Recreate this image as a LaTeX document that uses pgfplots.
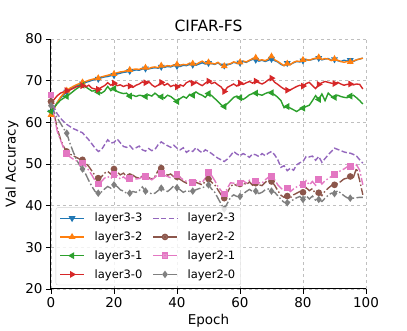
\documentclass[border=0pt]{standalone}
\usepackage{fontspec}
\setmainfont{DejaVu Sans}
\usepackage{pgfplots}
\usepackage{pgfplotstable}
\pgfplotsset{compat=1.18}

\definecolor{tabblue}{HTML}{1F77B4}
\definecolor{taborange}{HTML}{FF7F0E}
\definecolor{tabgreen}{HTML}{2CA02C}
\definecolor{tabred}{HTML}{D62728}
\definecolor{tabpurple}{HTML}{9467BD}
\definecolor{tabbrown}{HTML}{8C564B}
\definecolor{tabpink}{HTML}{E377C2}
\definecolor{tabgray}{HTML}{7F7F7F}

% columns: epoch, layer3-3, layer3-2, layer3-1, layer3-0, layer2-3, layer2-2, layer2-1, layer2-0
\pgfplotstableread{
ep l33 l32 l31 l30 l23 l22 l21 l20
0 62.5 61.8 62.6 64.6 66.0 65.0 66.6 64.0
1 63.5 63.2 63.6 65.5 63.5 62.0 61.5 62.5
2 64.8 64.8 64.5 66.4 62.0 58.5 57.8 61.0
3 65.8 66.0 65.3 67.0 61.0 56.0 55.8 59.8
4 66.6 66.9 65.8 67.3 60.2 54.2 53.8 58.5
5 67.3 67.6 66.2 67.6 59.5 53.0 52.5 57.4
6 67.9 68.2 66.8 67.8 59.0 52.4 51.7 55.0
7 68.3 68.6 67.4 68.1 58.5 52.0 51.2 53.0
8 68.7 69.0 68.0 68.5 58.2 51.6 50.8 51.2
9 69.0 69.3 68.5 68.7 57.8 51.2 50.5 49.8
10 69.3 69.6 68.9 68.8 57.5 51.0 50.2 48.8
11 69.6 69.8 68.5 68.5 56.6 50.2 49.4 47.6
12 69.8 70.1 68.0 68.9 55.8 49.4 48.5 46.0
13 70.1 70.3 67.5 68.2 54.8 48.3 47.3 44.6
14 70.3 70.5 67.6 68.0 53.8 47.2 46.0 43.4
15 70.4 70.6 67.2 67.9 53.0 46.6 45.2 43.0
16 70.7 70.9 67.0 68.4 53.4 46.9 45.8 43.3
17 70.9 71.1 67.5 68.8 54.6 47.8 46.6 44.0
18 71.0 71.3 68.6 69.5 55.8 48.2 47.0 44.6
19 71.2 71.5 67.6 68.9 55.0 47.6 46.5 44.2
20 71.3 71.6 68.1 69.4 55.2 48.8 47.5 45.0
21 71.6 71.9 67.4 68.8 56.0 48.1 47.2 44.6
22 71.8 72.1 67.1 69.0 55.1 47.4 46.4 43.8
23 72.0 72.2 66.9 68.6 54.2 47.8 46.9 43.5
24 72.1 72.4 67.0 68.9 54.0 47.0 46.3 43.0
25 72.3 72.6 66.3 68.7 54.4 47.0 46.5 43.0
26 72.4 72.7 66.5 68.4 53.6 47.3 46.9 43.4
27 72.6 72.8 66.2 68.9 53.9 46.8 46.4 43.2
28 72.5 72.7 66.5 69.2 54.3 46.6 46.5 43.6
29 72.8 73.0 66.4 69.7 53.4 47.1 46.9 44.5
30 72.9 73.1 66.2 69.5 53.1 47.0 47.0 43.5
31 72.8 72.9 66.6 69.8 53.7 46.7 46.6 43.2
32 73.0 73.2 66.3 69.0 53.2 46.4 46.2 42.8
33 73.1 73.3 67.0 68.5 53.5 47.0 46.8 43.0
34 73.0 73.1 66.4 68.9 54.6 48.4 47.5 43.6
35 73.3 73.6 66.1 69.6 55.3 49.0 47.7 44.2
36 73.2 73.4 65.8 68.9 54.8 48.0 47.3 43.7
37 73.4 73.6 66.5 69.3 54.4 47.3 47.0 43.4
38 73.3 73.5 66.2 68.6 54.0 47.6 46.7 44.0
39 73.6 73.8 65.6 68.9 54.5 46.9 47.2 44.8
40 73.5 73.9 65.0 68.5 53.8 46.9 47.5 44.3
41 73.4 73.7 65.7 69.0 53.4 46.3 46.8 43.8
42 73.7 73.9 66.2 68.7 53.9 45.8 46.2 43.2
43 73.6 73.8 65.8 69.5 52.8 45.4 45.8 43.6
44 73.9 74.2 66.7 69.9 53.3 45.6 46.0 43.4
45 73.8 74.1 66.5 69.4 53.0 45.5 45.6 43.5
46 73.7 73.9 67.3 69.7 53.9 45.6 46.0 43.8
47 74.0 74.3 66.8 69.2 53.2 45.3 45.8 44.1
48 74.3 74.7 66.5 68.8 52.7 45.0 45.6 44.3
49 74.0 74.2 66.0 69.4 53.4 45.8 46.6 44.6
50 74.2 74.4 66.9 69.9 53.0 46.4 48.0 45.0
51 74.1 74.2 66.4 69.3 52.5 45.6 47.2 44.0
52 73.9 74.0 65.7 69.6 51.9 45.0 46.0 43.2
53 74.3 74.4 65.0 69.0 51.4 43.8 44.6 41.8
54 73.7 73.8 64.2 68.5 51.0 42.6 43.6 40.4
55 73.6 73.5 63.8 67.4 50.6 41.8 42.8 39.2
56 73.8 73.9 64.5 68.4 51.2 43.2 44.2 40.6
57 74.0 74.1 65.2 68.8 52.0 44.6 45.5 42.0
58 74.4 74.5 66.0 69.2 53.0 45.2 45.4 42.6
59 74.2 74.3 66.3 68.7 52.4 44.8 45.0 42.2
60 74.3 74.4 65.9 69.4 52.0 45.2 45.4 42.2
61 74.6 74.7 65.5 69.1 52.5 45.6 46.0 42.8
62 74.4 74.5 66.0 69.5 52.1 45.0 45.4 43.4
63 74.8 74.9 66.6 69.8 51.6 45.7 46.1 43.9
64 75.1 75.3 66.9 69.4 52.4 44.9 45.6 43.4
65 75.0 75.5 67.0 69.9 52.2 45.4 45.9 43.5
66 74.7 74.9 66.7 69.5 51.8 45.0 45.5 42.9
67 74.9 75.0 66.5 69.2 52.5 44.8 45.4 43.2
68 74.6 74.8 66.9 69.6 52.0 45.6 46.2 43.8
69 74.9 75.2 67.2 70.2 52.6 46.1 46.8 44.0
70 75.2 75.8 67.1 70.6 53.0 45.8 47.0 43.5
71 74.8 75.0 66.6 69.6 52.2 44.9 46.2 43.2
72 74.5 74.6 66.0 69.1 51.0 43.6 45.0 42.4
73 73.9 74.1 65.2 68.5 49.2 42.5 44.2 41.5
74 73.6 73.6 63.5 68.0 49.6 42.0 43.6 40.8
75 74.2 74.1 63.8 67.7 48.4 42.3 44.2 40.7
76 73.9 73.9 63.4 67.8 49.0 41.9 43.4 40.9
77 74.3 74.4 63.0 68.2 48.5 42.6 44.0 41.5
78 74.6 74.7 62.6 68.6 49.8 43.0 44.5 41.9
79 74.5 74.6 63.1 68.9 50.3 43.4 44.9 42.2
80 74.8 75.0 63.4 68.7 50.6 43.2 45.1 41.5
81 75.0 75.1 63.8 69.3 51.8 44.3 46.0 42.4
82 74.9 74.9 64.1 69.6 51.7 43.6 45.0 41.6
83 75.1 75.2 65.2 68.8 51.9 44.1 45.8 42.3
84 75.3 75.4 66.4 68.1 50.9 42.8 44.9 41.3
85 75.4 75.6 65.5 69.1 51.8 43.1 46.3 41.5
86 75.0 75.1 66.8 69.5 50.4 42.4 45.2 41.0
87 75.2 75.3 65.2 69.8 51.3 43.5 46.0 41.8
88 75.3 75.2 67.0 69.6 52.2 44.2 46.5 42.5
89 74.9 74.8 66.3 69.4 53.0 44.8 47.0 43.0
90 75.1 75.2 66.0 69.3 53.8 45.0 47.5 42.9
91 74.8 74.9 66.5 69.6 53.5 45.3 48.0 43.6
92 74.6 74.6 66.2 69.2 53.2 45.8 48.4 43.0
93 74.9 74.4 66.0 68.9 52.9 46.4 48.8 42.4
94 74.7 74.6 65.9 69.1 52.7 46.6 49.3 41.9
95 74.9 74.5 66.3 69.2 52.6 47.0 49.4 41.8
96 74.6 74.7 66.5 69.0 52.3 46.8 49.0 41.8
97 75.0 75.0 65.9 69.2 51.9 49.0 49.8 41.9
98 75.2 75.2 65.2 69.1 51.0 46.0 48.5 42.0
99 75.4 75.4 64.4 68.0 50.2 42.6 45.0 42.0
}\accdata

\begin{document}
\begin{tikzpicture}
\begin{axis}[
  name=ax,
  scale only axis,
  width=315pt, height=250pt,
  xmin=0, xmax=100, ymin=20, ymax=80,
  xtick={0,20,...,100}, ytick={20,30,...,80},
  axis x line*=bottom, axis y line*=left,
  axis line style={black, line width=1pt},
  tick align=outside, major tick length=5pt,
  tick style={black, line width=0.9pt},
  grid=major,
  grid style={dashed, gray!50, line width=0.7pt},
  tick label style={font=\fontsize{13.5}{15}\selectfont},
  /pgf/number format/assume math mode=true,
  label style={font=\fontsize{13.5}{15}\selectfont},
  xlabel={Epoch}, ylabel={Val Accuracy},
  title={CIFAR-FS},
  title style={font=\fontsize{15.5}{18}\selectfont, yshift=-2pt},
  every axis plot/.append style={line width=1.4pt, mark size=2.6pt, mark repeat=5, mark phase=1},
  legend columns=4, transpose legend,
  legend cell align=left,
  legend image code/.code={%
    \draw[mark repeat=2, mark phase=2] plot coordinates {(0cm,0cm) (0.42cm,0cm) (0.84cm,0cm)};},
  legend style={at={(0.015,0.015)}, anchor=south west,
    font=\fontsize{11.5}{13}\selectfont,
    draw=gray!35, rounded corners=2pt, fill=white, fill opacity=0.8, text opacity=1,
    row sep=4.5pt, column sep=8pt, inner sep=3.5pt},
]
\addplot[color=tabblue, mark=triangle*, mark options={solid, rotate=180}] table[x=ep, y=l33] {\accdata};
\addlegendentry{layer3-3}
\addplot[color=taborange, mark=triangle*, mark options={solid}] table[x=ep, y=l32] {\accdata};
\addlegendentry{layer3-2}
\addplot[color=tabgreen, mark=triangle*, mark options={solid, rotate=90}] table[x=ep, y=l31] {\accdata};
\addlegendentry{layer3-1}
\addplot[color=tabred, mark=triangle*, mark options={solid, rotate=-90}] table[x=ep, y=l30] {\accdata};
\addlegendentry{layer3-0}
\addplot[color=tabpurple, no marks, dash pattern=on 5.5pt off 2.4pt] table[x=ep, y=l23] {\accdata};
\addlegendentry{layer2-3}
\addplot[color=tabbrown, mark=*, mark options={solid}, dash pattern=on 9pt off 2.4pt on 1.5pt off 2.4pt] table[x=ep, y=l22] {\accdata};
\addlegendentry{layer2-2}
\addplot[color=tabpink, mark=square*, mark options={solid}, dash pattern=on 9pt off 2.4pt on 1.5pt off 2.4pt] table[x=ep, y=l21] {\accdata};
\addlegendentry{layer2-1}
\addplot[color=tabgray, mark=diamond*, mark options={solid}, dash pattern=on 9pt off 2.4pt on 1.5pt off 2.4pt] table[x=ep, y=l20] {\accdata};
\addlegendentry{layer2-0}
\end{axis}
\path (ax.south west) ++(-51pt,-37pt) coordinate (bbl);
\path (ax.north east) ++(41pt,39pt) coordinate (btr);
\path (bbl) rectangle (btr);
\end{tikzpicture}
\end{document}
